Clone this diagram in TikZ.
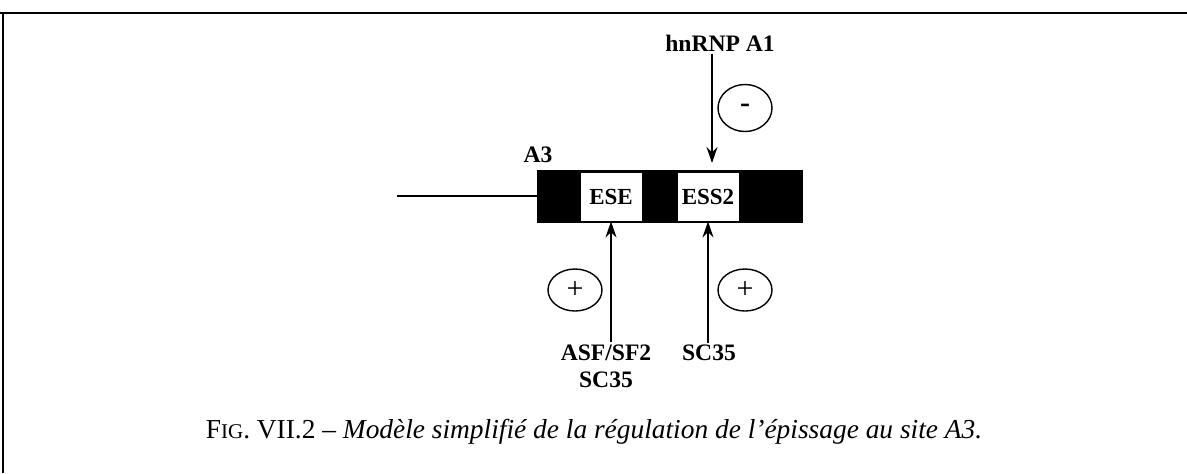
\documentclass[tikz,border=0pt]{standalone}
\usepackage{fontspec}
\setmainfont{Liberation Serif}
\usetikzlibrary{shapes.geometric, arrows.meta}

\begin{document}
\begin{tikzpicture}[>={Stealth[length=8pt, width=5.5pt]}, x=0.5pt, y=-0.5pt,
    exonbar/.style={draw, fill=black, minimum width=132.5pt, minimum height=26pt, inner sep=0pt},
    motif/.style={draw, fill=white, minimum width=31pt, minimum height=24.5pt, inner sep=0pt, font=\bfseries\fontsize{11.5}{13}\selectfont},
    factor/.style={font=\bfseries\fontsize{11.8}{13.5}\selectfont, align=center, inner sep=1pt},
    effect/.style={draw, ellipse, line width=0.7pt, minimum width=27pt, minimum height=21pt, inner sep=0pt, font=\fontsize{15}{15}\selectfont},
    reg/.style={->, line width=0.75pt}]
  % Frame
  \useasboundingbox (0,0) rectangle (1187,473);
  \draw[line width=1.2pt] (0,13) -- (1187,13);
  \draw[line width=0.8pt] (3,13) -- (3,473);

  % Exon A3 with its motifs
  \node[exonbar] (exon) at (669.5,196) {};
  \coordinate (intron) at (397,196);
  \draw[line width=0.7pt] (intron) -- (exon.west);
  \node[motif] (ese) at (611,196.5) {ESE};
  \node[motif] (ess2) at (708,196.5) {ESS2};
  \node[factor] (a3) at (538,155) {A3};

  % Repressor
  \node[factor] (hnrnp) at (720,43) {hnRNP A1};
  \coordinate (hit) at (712,163);
  \draw[reg] (hnrnp.south -| hit) -- (hit);
  \node[effect, minimum height=23.5pt] (minus) at (745,108) {\bfseries -};

  % Activators
  \node[factor] (asf) at (606,366) {ASF/SF2\\SC35};
  \node[factor] (sc35) at (709,353) {SC35};
  \draw[reg] (asf.north -| ese.south) -- (ese.south);
  \draw[reg] (sc35.north -| ess2.south) -- (ess2.south);
  \node[effect] (plusa) at (575,290) {+};
  \node[effect] (plusb) at (745,290) {+};

  % Caption
  \node[font=\fontsize{13.7}{15}\selectfont] (caption) at (594,432)
    {F{\fontsize{10.5}{12}\selectfont IG}. VII.2 -- \textit{Modèle simplifié de la régulation de l’épissage au site A3.}};
\end{tikzpicture}
\end{document}
